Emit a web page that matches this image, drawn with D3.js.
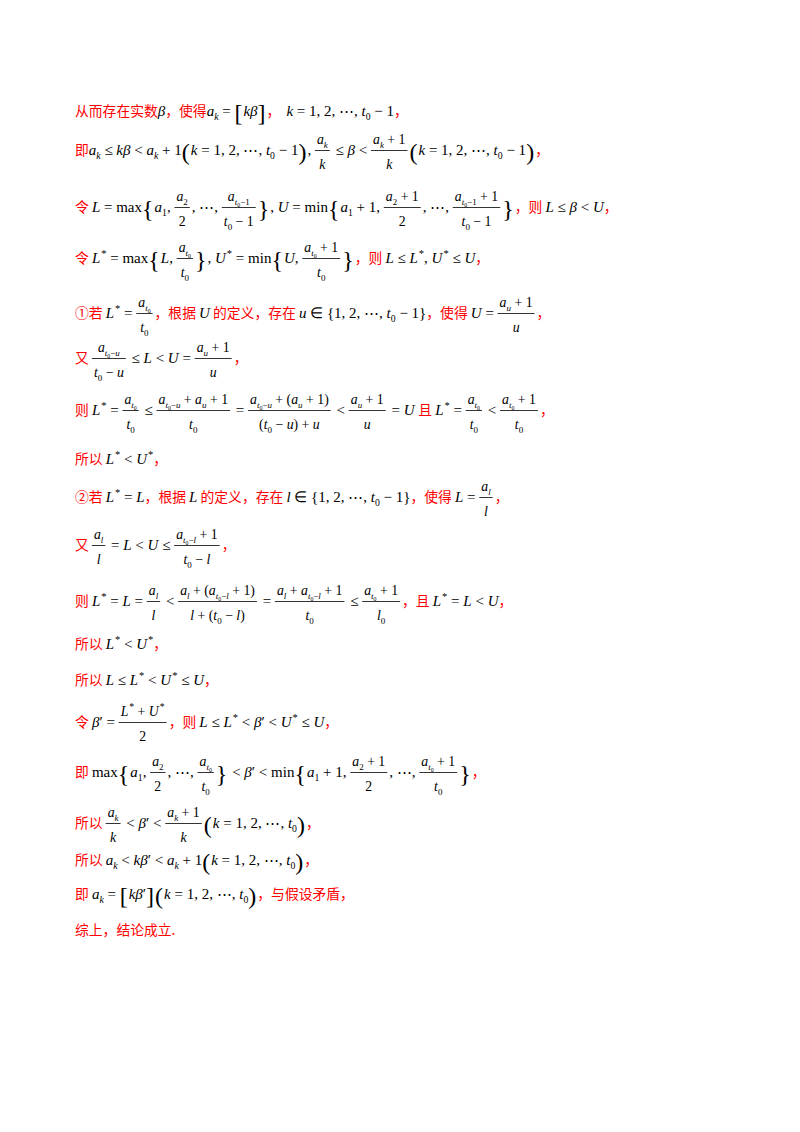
<!DOCTYPE html>
<html><head><meta charset="utf-8">
<script src="https://cdn.jsdelivr.net/npm/d3@7"></script>
<style>body{margin:0;background:#fff} text{white-space:pre}</style></head>
<body><svg id="c" width="800" height="1132"></svg>
<script>
const c=s=>({t:'c',s}), m=s=>({t:'m',s}), u=s=>({t:'u',s}), b=s=>({t:'b',s}), sp=w=>({t:'sp',w});
const s=(...a)=>({t:'s',a:a.map(x=>typeof x==='string'?m(x):x)});
const p=x=>({t:'p',s:x});
const f=(n,d)=>({t:'f',n,d});
const t0=[m('t'),s('0')];
const at0=[m('a'),s('t',s('0'))];
const Ls=[m('L'),p('*')], Us=[m('U'),p('*')];

const lineY=[111,150,207,258,313,358,410,459,497,545,601,644,680,722,772,823,860,894,930];
const lines=[
 [c('从而存在实数'),m('β'),c('，使得'),m('a'),s('k'),m(' = '),b('['),m('kβ'),b(']'),c('，'),sp(6),m('k = 1, 2, ⋯, t'),s('0'),m(' − 1'),c('，')],
 [c('即'),m('a'),s('k'),m(' ≤ kβ < a'),s('k'),m(' + 1'),b('('),m('k = 1, 2, ⋯, t'),s('0'),m(' − 1'),b(')'),m(', '),f([m('a'),s('k')],[m('k')]),m(' ≤ β < '),f([m('a'),s('k'),m(' + 1')],[m('k')]),b('('),m('k = 1, 2, ⋯, t'),s('0'),m(' − 1'),b(')'),c('，')],
 [c('令 '),m('L = '),u('max'),b('{'),m('a'),s('1'),m(', '),f([m('a'),s('2')],[m('2')]),m(', ⋯, '),f([m('a'),s('t',s('0'),'−1')],[...t0,m(' − 1')]),b('}'),m(', U = '),u('min'),b('{'),m('a'),s('1'),m(' + 1, '),f([m('a'),s('2'),m(' + 1')],[m('2')]),m(', ⋯, '),f([m('a'),s('t',s('0'),'−1'),m(' + 1')],[...t0,m(' − 1')]),b('}'),c('，则 '),m('L ≤ β < U'),c('，')],
 [c('令 '),...Ls,m(' = '),u('max'),b('{'),m('L, '),f(at0,t0),b('}'),m(', '),...Us,m(' = '),u('min'),b('{'),m('U, '),f([...at0,m(' + 1')],t0),b('}'),c('，则 '),m('L ≤ '),...Ls,m(', '),...Us,m(' ≤ U'),c('，')],
 [c('①若 '),...Ls,m(' = '),f(at0,t0),c('，根据 '),m('U'),c(' 的定义，存在 '),m('u ∈ {1, 2, ⋯, t'),s('0'),m(' − 1}'),c('，使得 '),m('U = '),f([m('a'),s('u'),m(' + 1')],[m('u')]),c('，')],
 [c('又 '),f([m('a'),s('t',s('0'),'−u')],[...t0,m(' − u')]),m(' ≤ L < U = '),f([m('a'),s('u'),m(' + 1')],[m('u')]),c('，')],
 [c('则 '),...Ls,m(' = '),f(at0,t0),m(' ≤ '),f([m('a'),s('t',s('0'),'−u'),m(' + a'),s('u'),m(' + 1')],t0),m(' = '),f([m('a'),s('t',s('0'),'−u'),m(' + (a'),s('u'),m(' + 1)')],[m('(t'),s('0'),m(' − u) + u')]),m(' < '),f([m('a'),s('u'),m(' + 1')],[m('u')]),m(' = U '),c('且 '),...Ls,m(' = '),f(at0,t0),m(' < '),f([...at0,m(' + 1')],t0),c('，')],
 [c('所以 '),...Ls,m(' < '),...Us,c('，')],
 [c('②若 '),...Ls,m(' = L'),c('，根据 '),m('L'),c(' 的定义，存在 '),m('l ∈ {1, 2, ⋯, t'),s('0'),m(' − 1}'),c('，使得 '),m('L = '),f([m('a'),s('l')],[m('l')]),c('，')],
 [c('又 '),f([m('a'),s('l')],[m('l')]),m(' = L < U ≤ '),f([m('a'),s('t',s('0'),'−l'),m(' + 1')],[...t0,m(' − l')]),c('，')],
 [c('则 '),...Ls,m(' = L = '),f([m('a'),s('l')],[m('l')]),m(' < '),f([m('a'),s('l'),m(' + (a'),s('t',s('0'),'−l'),m(' + 1)')],[m('l + (t'),s('0'),m(' − l)')]),m(' = '),f([m('a'),s('l'),m(' + a'),s('t',s('0'),'−l'),m(' + 1')],t0),m(' ≤ '),f([...at0,m(' + 1')],[m('l'),s('0')]),c('，且 '),...Ls,m(' = L < U'),c('，')],
 [c('所以 '),...Ls,m(' < '),...Us,c('，')],
 [c('所以 '),m('L ≤ '),...Ls,m(' < '),...Us,m(' ≤ U'),c('，')],
 [c('令 '),m('β′ = '),f([...Ls,m(' + '),...Us],[m('2')]),c('，则 '),m('L ≤ '),...Ls,m(' < β′ < '),...Us,m(' ≤ U'),c('，')],
 [c('即 '),u('max'),b('{'),m('a'),s('1'),m(', '),f([m('a'),s('2')],[m('2')]),m(', ⋯, '),f(at0,t0),b('}'),m(' < β′ < '),u('min'),b('{'),m('a'),s('1'),m(' + 1, '),f([m('a'),s('2'),m(' + 1')],[m('2')]),m(', ⋯, '),f([...at0,m(' + 1')],t0),b('}'),c('，')],
 [c('所以 '),f([m('a'),s('k')],[m('k')]),m(' < β′ < '),f([m('a'),s('k'),m(' + 1')],[m('k')]),b('('),m('k = 1, 2, ⋯, t'),s('0'),b(')'),c('，')],
 [c('所以 '),m('a'),s('k'),m(' < kβ′ < a'),s('k'),m(' + 1'),b('('),m('k = 1, 2, ⋯, t'),s('0'),b(')'),c('，')],
 [c('即 '),m('a'),s('k'),m(' = '),b('['),m('kβ′'),b(']'),b('('),m('k = 1, 2, ⋯, t'),s('0'),b(')'),c('，与假设矛盾，')],
 [c('综上，结论成立.')]
];

const svg=d3.select('#c');
function txt(g,str,x,y,fs,opt){
  const t=g.append('text').attr('x',x).attr('y',y).attr('font-size',fs).attr('xml:space','preserve').text(str)
    .attr('font-family',opt.cn?'"Noto Sans CJK SC"':'"Liberation Serif"')
    .attr('fill',opt.cn?'#ff0000':'#000').attr('font-style',opt.it?'italic':'normal');
  return t.node().getComputedTextLength();
}
function draw(g,toks,x,y,fs){
  let cx=x;
  toks.forEach(k=>{
    if(k.t==='c') cx+=txt(g,k.s,cx,y,fs*0.92,{cn:1});
    else if(k.t==='u') cx+=txt(g,k.s,cx,y,fs,{});
    else if(k.t==='m'){
      (k.s.match(/[A-Za-zβ]+|[^A-Za-zβ]+/g)||[]).forEach(r=>{cx+=txt(g,r,cx,y,fs,{it:/[A-Za-zβ]/.test(r)});});
    }
    else if(k.t==='s') cx+=draw(g,k.a,cx,y+fs*0.28,fs*0.65);
    else if(k.t==='p') cx+=txt(g,k.s,cx+1,y-fs*0.4,fs*0.7,{})+1;
    else if(k.t==='sp') cx+=k.w;
    else if(k.t==='b') cx+=txt(g,k.s,cx,y+fs*0.3,fs*1.6,{})+1;
    else if(k.t==='f'){
      const ng=g.append('g'), dg=g.append('g');
      const w1=draw(ng,k.n,0,0,fs*0.92), w2=draw(dg,k.d,0,0,fs*0.92);
      const w=Math.max(w1,w2)+4;
      ng.attr('transform',`translate(${cx+(w-w1)/2},${y-fs*0.75})`);
      dg.attr('transform',`translate(${cx+(w-w2)/2},${y+fs*0.95})`);
      g.append('line').attr('x1',cx).attr('x2',cx+w).attr('y1',y-fs*0.3).attr('y2',y-fs*0.3).attr('stroke','#000').attr('stroke-width',0.8);
      cx+=w+2;
    }
  });
  return cx-x;
}
const yScale=d3.scaleLinear().domain([0,1132]).range([0,1132]);
lines.forEach((toks,i)=>{ draw(svg.append('g'),toks,75,yScale(lineY[i])+5,15); });
</script></body></html>
